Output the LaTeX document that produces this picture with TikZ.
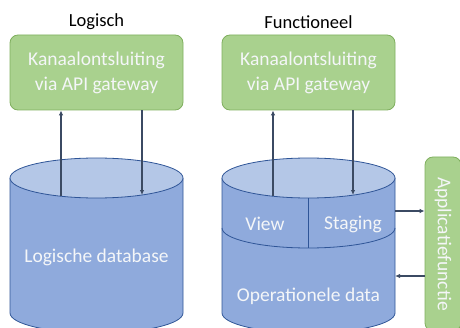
\documentclass[tikz,border=0pt]{standalone}
\usepackage{fontspec}
\setmainfont{Carlito}
\usepackage{tikz}
\usetikzlibrary{arrows.meta}
\definecolor{groenvul}{HTML}{A9D18E}
\definecolor{groenrand}{HTML}{7FAF5E}
\definecolor{blauwlijf}{HTML}{8FAADC}
\definecolor{blauwtop}{HTML}{B4C7E7}
\definecolor{blauwrand}{HTML}{2F5597}
\definecolor{pijlkleur}{HTML}{3B4A63}
\definecolor{tekstlicht}{HTML}{F4F6F8}

\begin{document}
\begin{tikzpicture}[x=1pt,y=1pt,
    groen/.style={rectangle,rounded corners=8pt,draw=groenrand,fill=groenvul,
      text=tekstlicht,line width=0.8pt,align=center,
      font=\fontsize{19.5}{25}\selectfont},
    titel/.style={font=\fontsize{18.5}{22}\selectfont},
    dbtekst/.style={text=tekstlicht,font=\fontsize{19.5}{23}\selectfont},
    db/.style={draw=blauwrand,line width=0.8pt},
    pijl/.style={draw=pijlkleur,line width=1.1pt,-{Latex[length=5pt,width=4.5pt]}}]
  \useasboundingbox (0,0) rectangle (460,327);
  \clip (0,0) rectangle (460,327);

  \node[titel] (logisch) at (96.5,305) {Logisch};
  \node[titel] (functioneel) at (308.5,305) {Functioneel};

  \node[groen,minimum width=173pt,minimum height=75pt] (kanaalL)
    at (96.5,254.5) {Kanaalontsluiting\\via API gateway};
  \node[groen,minimum width=173pt,minimum height=75pt] (kanaalF)
    at (308.5,254.5) {Kanaalontsluiting\\via API gateway};

  \filldraw[db,fill=blauwlijf]
    (10,149) -- (10,14)
    arc[start angle=180,end angle=360,x radius=86.5,y radius=20]
    -- (183,149);
  \filldraw[db,fill=blauwtop]
    (96.5,149) ellipse[x radius=86.5,y radius=20];
  \node[dbtekst] (logdb) at (96.5,70) {Logische database};

  \filldraw[db,fill=blauwlijf]
    (222,149) -- (222,14)
    arc[start angle=180,end angle=360,x radius=86.5,y radius=20]
    -- (395,149);
  \filldraw[db,fill=blauwtop]
    (308.5,149) ellipse[x radius=86.5,y radius=20];
  \draw[db]
    (222,99)
    arc[start angle=180,end angle=360,x radius=86.5,y radius=20];
  \draw[db]
    (308.5,129)
    --
    (308.5,79);
  \node[dbtekst] (view) at (265,103) {View};
  \node[dbtekst] (staging) at (353,103) {Staging};
  \node[dbtekst] (opdata) at (308.5,31) {Operationele data};

  \node[groen,rotate=-90,minimum width=174pt,minimum height=36pt] (appl)
    at (443,83) {Applicatiefunctie};

  \coordinate (inL) at (61,130.8);
  \coordinate (uitL) at (142,132);
  \coordinate (inF) at (273,131);
  \coordinate (uitF) at (353,132);
  \coordinate (naar) at (395,116);
  \coordinate (terug) at (395,51);

  \draw[pijl] (inL) -- (inL |- kanaalL.south);
  \draw[pijl] (uitL |- kanaalL.south) -- (uitL);
  \draw[pijl] (inF) -- (inF |- kanaalF.south);
  \draw[pijl] (uitF |- kanaalF.south) -- (uitF);
  \draw[pijl] (naar) -- (naar -| appl.south);
  \draw[pijl] (terug -| appl.south) -- (terug);
\end{tikzpicture}
\end{document}
